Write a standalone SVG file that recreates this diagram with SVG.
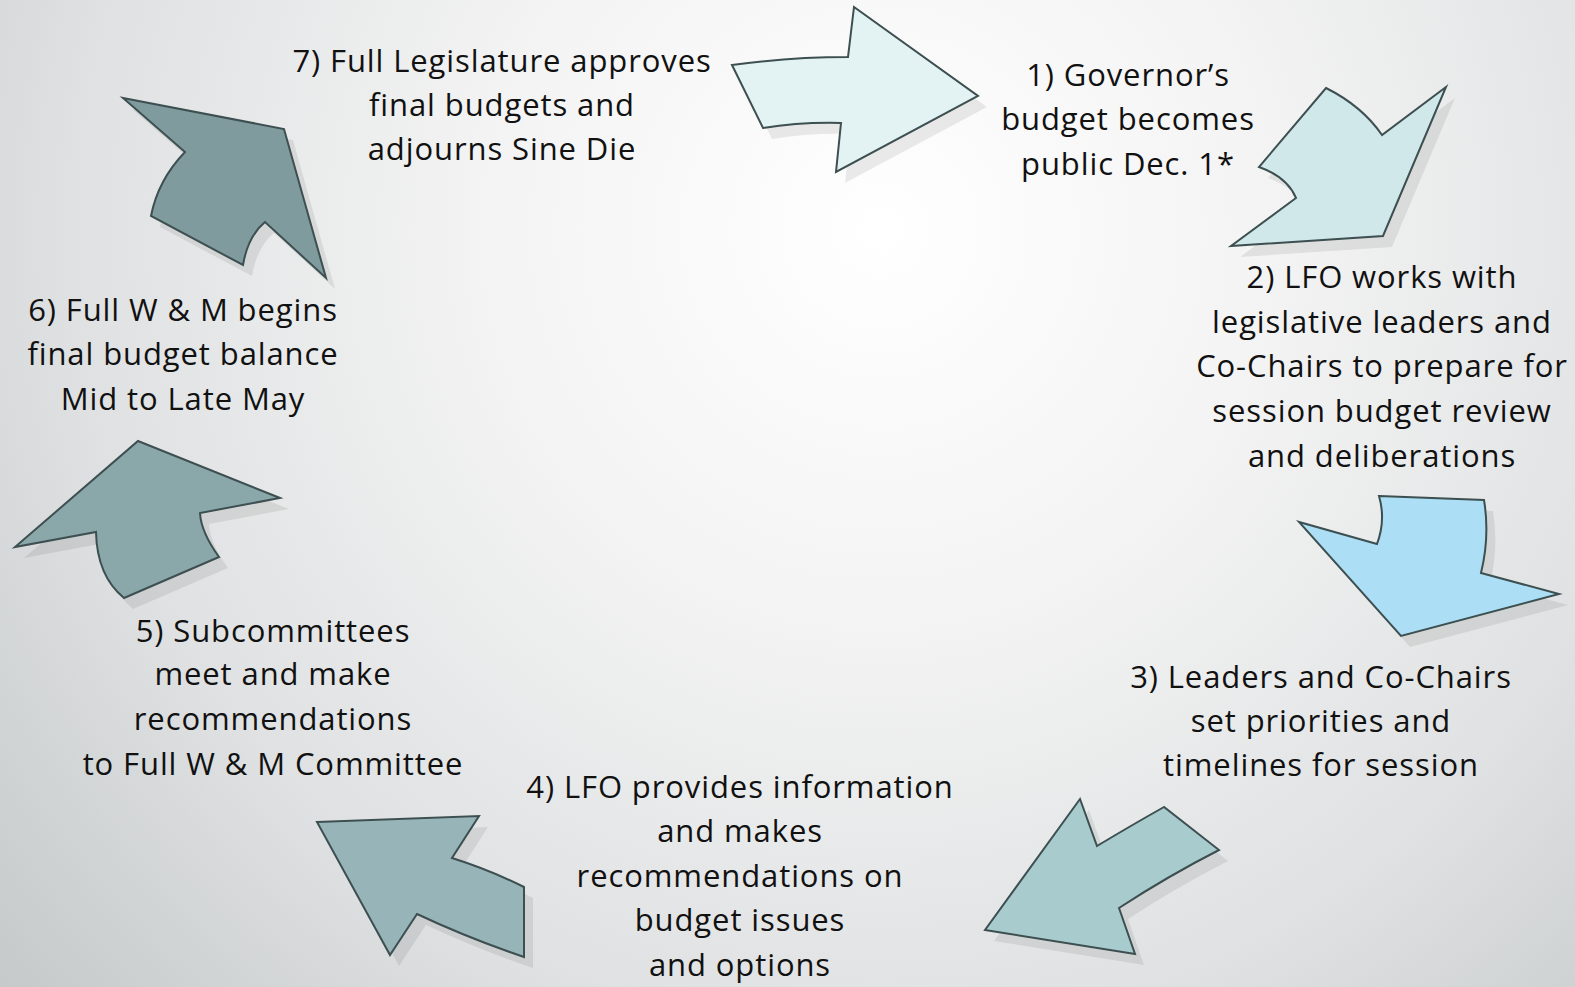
<svg xmlns="http://www.w3.org/2000/svg" width="1575" height="987" viewBox="0 0 1575 987">
<defs>
<radialGradient id="bg" cx="880" cy="230" r="1150" gradientUnits="userSpaceOnUse">
<stop offset="0" stop-color="#ffffff"/>
<stop offset="0.35" stop-color="#f3f3f3"/>
<stop offset="0.7" stop-color="#dfe1e2"/>
<stop offset="1" stop-color="#c6cacb"/>
</radialGradient>
</defs>
<style>
.sh{fill:#000;fill-opacity:0.08;stroke:none}
.ar{stroke:#3d4f50;stroke-width:2;stroke-linejoin:miter}
text{font-family:"Open Sans","Noto Sans",sans-serif;font-size:31px;letter-spacing:0.9px;fill:#111;text-anchor:middle}
</style>
<rect width="1575" height="987" fill="url(#bg)"/>
<g id="connectors">
<g id="arrow1">
<path class="sh" transform="translate(9,11)" d="M732,65 Q790,57 848,57 L854,7 L978,96 L836,172 L841,123 Q800,122 763,128 Z"/>
<path class="ar" fill="#e3f3f4" d="M732,65 Q790,57 848,57 L854,7 L978,96 L836,172 L841,123 Q800,122 763,128 Z"/>
</g>
<g id="arrow2">
<path class="sh" transform="translate(9,11)" d="M1326,88 Q1362,106 1382,135 L1446,87 L1383,236 L1231,246 L1296,198 Q1287,177 1259,167 Z"/>
<path class="ar" fill="#d0e8ea" d="M1326,88 Q1362,106 1382,135 L1446,87 L1383,236 L1231,246 L1296,198 Q1287,177 1259,167 Z"/>
</g>
<g id="arrow3">
<path class="sh" transform="translate(9,11)" d="M1379,496 L1484,500 Q1490,536 1481,573 L1559,594 L1401,636 L1299,522 L1377,544 Q1386,520 1379,496 Z"/>
<path class="ar" fill="#acdff5" d="M1379,496 L1484,500 Q1490,536 1481,573 L1559,594 L1401,636 L1299,522 L1377,544 Q1386,520 1379,496 Z"/>
</g>
<g id="arrow4">
<path class="sh" transform="translate(9,11)" d="M1080,799 L1097,846 Q1132,825 1164,807 L1219,850 Q1168,876 1119,908 L1135,954 L985,930 Z"/>
<path class="ar" fill="#a8cbcd" d="M1080,799 L1097,846 Q1132,825 1164,807 L1219,850 Q1168,876 1119,908 L1135,954 L985,930 Z"/>
</g>
<g id="arrow5">
<path class="sh" transform="translate(9,11)" d="M317,822 L479,816 L452,858 Q490,870 524,887 L524,957 Q468,938 417,914 L390,955 Z"/>
<path class="ar" fill="#97b5b8" d="M317,822 L479,816 L452,858 Q490,870 524,887 L524,957 Q468,938 417,914 L390,955 Z"/>
</g>
<g id="arrow6">
<path class="sh" transform="translate(9,11)" d="M138,441 L280,498 L200,513 Q201,532 219,557 L124,598 Q97,576 96,532 L15,547 Z"/>
<path class="ar" fill="#8aa7aa" d="M138,441 L280,498 L200,513 Q201,532 219,557 L124,598 Q97,576 96,532 L15,547 Z"/>
</g>
<g id="arrow7">
<path class="sh" transform="translate(9,11)" d="M123,98 L284,129 L326,278 L265,222 Q248,236 243,265 L151,216 Q158,180 185,152 Z"/>
<path class="ar" fill="#7f9b9e" d="M123,98 L284,129 L326,278 L265,222 Q248,236 243,265 L151,216 Q158,180 185,152 Z"/>
</g>
</g>
<g id="step1">
<text x="1128" y="86">1) Governor’s</text>
<text x="1128" y="130">budget becomes</text>
<text x="1128" y="175">public Dec. 1*</text>
</g>
<g id="step2">
<text x="1382" y="288">2) LFO works with</text>
<text x="1382" y="333">legislative leaders and</text>
<text x="1382" y="377">Co-Chairs to prepare for</text>
<text x="1382" y="422">session budget review</text>
<text x="1382" y="467">and deliberations</text>
</g>
<g id="step3">
<text x="1321" y="688">3) Leaders and Co-Chairs</text>
<text x="1321" y="732">set priorities and</text>
<text x="1321" y="776">timelines for session</text>
</g>
<g id="step4">
<text x="740" y="798">4) LFO provides information</text>
<text x="740" y="842">and makes</text>
<text x="740" y="887">recommendations on</text>
<text x="740" y="931">budget issues</text>
<text x="740" y="976">and options</text>
</g>
<g id="step5">
<text x="273" y="642">5) Subcommittees</text>
<text x="273" y="685">meet and make</text>
<text x="273" y="730">recommendations</text>
<text x="273" y="775">to Full W &amp; M Committee</text>
</g>
<g id="step6">
<text x="183" y="321">6) Full W &amp; M begins</text>
<text x="183" y="365">final budget balance</text>
<text x="183" y="410">Mid to Late May</text>
</g>
<g id="step7">
<text x="502" y="72">7) Full Legislature approves</text>
<text x="502" y="116">final budgets and</text>
<text x="502" y="160">adjourns Sine Die</text>
</g>
</svg>
